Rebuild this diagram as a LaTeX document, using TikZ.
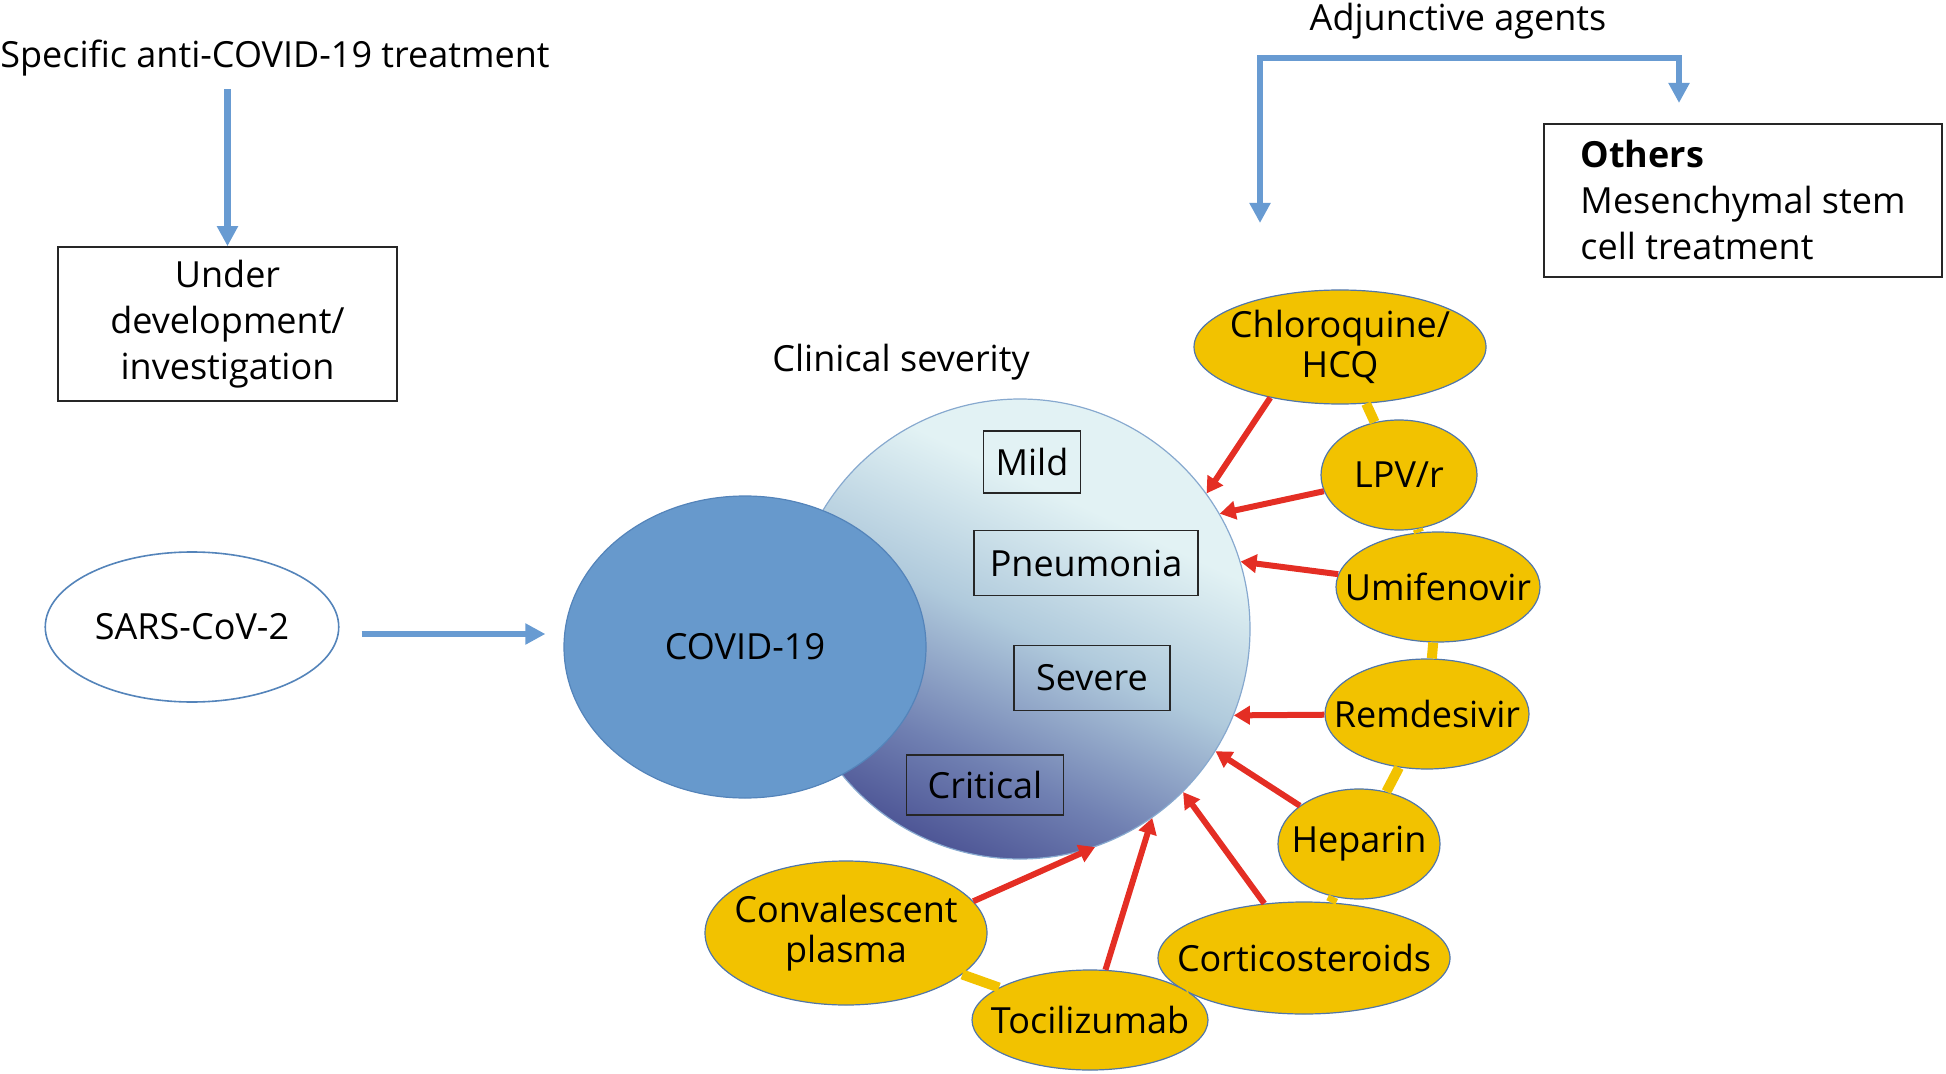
\documentclass[tikz,border=0pt]{standalone}
\usepackage{fontspec}
\setmainfont{Open Sans}
\usepackage{tikz}
\usetikzlibrary{shapes.geometric,arrows.meta,positioning,calc}
\definecolor{covBlue}{RGB}{103,153,204}
\definecolor{covEdge}{RGB}{84,132,186}
\definecolor{arrBlue}{RGB}{104,155,210}
\definecolor{drugYellow}{RGB}{242,194,0}
\definecolor{drugEdge}{RGB}{80,118,170}
\definecolor{hitRed}{RGB}{228,46,36}
\definecolor{sevTop}{RGB}{226,242,244}
\definecolor{sevMid}{RGB}{176,202,220}
\definecolor{sevLow}{RGB}{112,128,178}
\definecolor{sevBot}{RGB}{78,86,150}
\pgfdeclareverticalshading{sevshade}{100bp}{color(0bp)=(sevBot); color(25bp)=(sevBot); color(35bp)=(sevLow); color(50bp)=(sevMid); color(65bp)=(sevTop); color(100bp)=(sevTop)}
\tikzset{
  txt/.style={font=\fontsize{18}{23}\selectfont},
  drugtxt/.style={font=\fontsize{18}{20}\selectfont, align=center, inner sep=0pt},
  bluearrow/.style={draw=arrBlue, line width=3.2pt, -{Triangle[width=10pt,length=10pt]}},
  hitarrow/.style={draw=hitRed, line width=3pt, -{Triangle[width=9pt,length=8pt]}},
  link/.style={draw=drugYellow, line width=5pt},
  drug/.style={ellipse, draw=drugEdge, line width=0.6pt, fill=drugYellow, inner sep=0pt, label={[drugtxt]center:#1}},
  grade/.style={draw=black!85, line width=0.8pt, inner sep=0pt, txt},
  infobox/.style={draw=black!85, line width=0.8pt, txt},
}
\begin{document}
\begin{tikzpicture}[x=0.5pt, y=-0.5pt]
    \useasboundingbox (0,0) rectangle (1946,1074);

    % Specific treatment branch
    \node[txt, anchor=west, inner sep=0pt] (spec) at (0,58) {Specific anti-COVID-19 treatment};
    \node[infobox, align=center, minimum width=169.5pt, minimum height=77pt] (undev) at (227.5,324) {Under\\development/\\investigation};
    \draw[bluearrow, shorten <=6.5pt] (undev.north |- spec.south) -- (undev.north);

    % Adjunctive agents branch
    \node[txt] (adj) at (1458,21) {Adjunctive agents};
    \node[infobox, align=left, minimum width=199pt, minimum height=76.5pt] (others) at (1743,200.5) {\textbf{Others}\\Mesenchymal stem\\cell treatment};
    \coordinate (adjL) at (1260,223);
    \coordinate (adjR) at (1679,103);
    \draw[bluearrow, {Triangle[width=10pt,length=10pt]}-{Triangle[width=10pt,length=10pt]}] (adjL) |- ([yshift=-6pt]adj.south) -| (adjR);

    % Clinical severity
    \node[circle, minimum size=230pt, draw=covEdge!70, line width=0.6pt, shading=sevshade, shading angle=-25] (sev) at (1020,629) {};
    \node[txt] (clin) at (901,362) {Clinical severity};
    \node[ellipse, fill=covBlue, draw=covEdge, line width=0.6pt, minimum width=181pt, minimum height=151pt, txt] (covid) at (745,647) {COVID-19};
    \node[grade, minimum width=48.5pt, minimum height=31pt] (mild) at (1032,462) {Mild};
    \node[grade, minimum width=112pt, minimum height=32.5pt] (pneu) at (1086,563) {Pneumonia};
    \node[grade, minimum width=78pt, minimum height=32.5pt] (severe) at (1092,678) {Severe};
    \node[grade, minimum width=78.5pt, minimum height=30pt] (crit) at (985,785) {Critical};

    % Infection
    \node[ellipse, draw=covEdge, line width=0.8pt, fill=white, minimum width=140pt, minimum height=75pt, txt] (sars) at (192,627) {SARS-CoV-2};
    \coordinate (inf) at ([yshift=-3.5pt]sars.east);
    \draw[bluearrow, shorten <=11pt, shorten >=9pt] (inf) -- (inf -| covid.west);

    % Drugs
    \node[drug={Chloroquine/\\HCQ}, minimum width=146pt, minimum height=57pt] (chq) at (1340,347) {};
    \node[drug={LPV/r}, minimum width=78pt, minimum height=55pt] (lpv) at (1399,475) {};
    \node[drug=Umifenovir, minimum width=102pt, minimum height=55pt] (umi) at (1438,587) {};
    \node[drug=Remdesivir, minimum width=102pt, minimum height=55pt] (rem) at (1427,714) {};
    \node[drug=Heparin, minimum width=81pt, minimum height=55pt] (hep) at (1359,844) {};
    \node[drug=Corticosteroids, minimum width=146pt, minimum height=56pt] (cort) at (1304,958) {};
    \node[drug=Tocilizumab, minimum width=118pt, minimum height=50pt] (toci) at (1090,1020) {};
    \node[drug={Convalescent\\plasma}, minimum width=141pt, minimum height=72pt] (conv) at (846,933) {};

    \foreach \a/\b in {chq/lpv, lpv/umi, umi/rem, rem/hep, hep/cort, cort/toci, toci/conv}
        \draw[link] (\a) -- (\b);
    \foreach \d/\ang in {chq.216/36.6, lpv/30.1, umi/17.7, rem/-22.2, hep/-32.4, cort/-45, toci/-55, conv.14/-71.6}
        \draw[hitarrow] (\d) -- (sev.\ang);

\end{tikzpicture}
\end{document}
